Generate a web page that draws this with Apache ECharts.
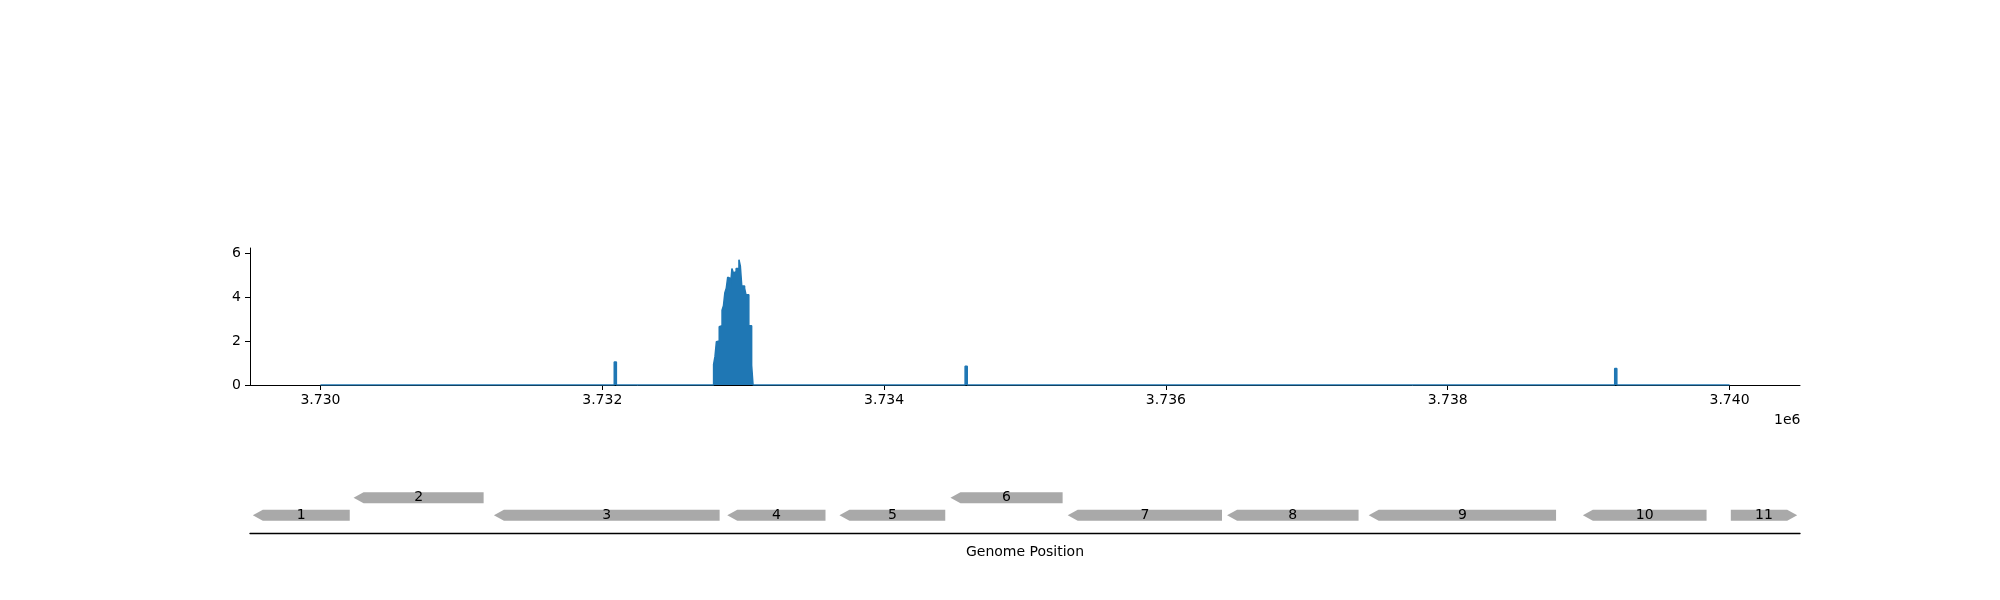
<!DOCTYPE html>
<html lang="en">
<head>
	<meta charset="UTF-8">
	<title>coverage</title>
	<style>
		html,body{margin:0;padding:0;background:#fff;}
		#main{width:2000px;height:600px;}
	</style>
</head>
<body>
	<div id="main"></div>
	<script src="https://cdn.jsdelivr.net/npm/echarts@6/dist/echarts.min.js"></script>
	<script>
		// coverage, step positions (bp) and depth
		var covPos = [3730000, 3732085, 3732100,
			3732790,3732800,3732810,3732820,3732830,3732840,3732850,3732860,3732870,3732880,
			3732890,3732900,3732910,3732920,3732930,3732940,3732950,3732960,3732970,3732980,
			3732990,3733000,3733010,3733020,3733030,3733040,3733050,3733060,3733070,
			3734575, 3734590, 3739185, 3739200, 3740000];
		var covVal = [0, 1.05, 0,
			0.94,1.3,1.97,2.0,2.65,2.7,3.4,3.6,4.2,4.4,
			4.9,4.85,4.5,5.3,5.1,5.15,5.3,5.3,5.7,5.4,
			4.5,4.5,4.4,4.1,4.1,2.7,2.7,0.9,0,
			0.85, 0, 0.75, 0, 0];

		var geneName = ['1','2','3','4','5','6','7','8','9','10','11'];
		var geneStart = [3729520,3730235,3731231,3732887,3733683,3734471,3735303,3736434,3737439,3738959,3740009];
		var geneEnd   = [3730208,3731158,3732833,3733584,3734434,3735267,3736398,3737367,3738769,3739837,3740480];
		var geneRow   = [1,2,1,1,1,2,1,1,1,1,1];
		var geneStrand= [-1,-1,-1,-1,-1,-1,-1,-1,-1,-1,1];

		var xTicks = [3730000,3732000,3734000,3736000,3738000,3740000];
		var yTicks = [0,2,4,6];

		var covData = [];
		for (var i = 0; i < covPos.length; i++) covData.push([covPos[i], covVal[i]]);
		var geneData = [];
		for (var i = 0; i < geneName.length; i++) {
			geneData.push([geneStart[i], geneEnd[i], geneRow[i], geneStrand[i], geneName[i]]);
		}

		var xmin = 3729500, xmax = 3740500;
		var font = 'DejaVu Sans';

		var myChart = echarts.init(document.getElementById('main'));
		var option = {
			animation: false,
			textStyle: {fontFamily: font},
			grid: [
				{left: 250, width: 1550, top: 248, height: 137},
				{left: 250, width: 1550, top: 480, height: 53}
			],
			xAxis: [{
				type: 'value', gridIndex: 0, min: xmin, max: xmax,
				axisLine: {show: true, onZero: false, lineStyle: {color: '#000'}},
				axisTick: {show: true, customValues: xTicks, length: 5, lineStyle: {color: '#000'}},
				axisLabel: {customValues: xTicks, color: '#000', fontSize: 14, margin: 8,
					formatter: function (v) { return (v / 1e6).toFixed(3); }},
				splitLine: {show: false},
				name: '1e6', nameLocation: 'end', nameGap: 0,
				nameTextStyle: {color: '#000', fontSize: 14, verticalAlign: 'top', padding: [28, 0, 0, -26]}
			}, {
				type: 'value', gridIndex: 1, min: xmin, max: xmax,
				axisLine: {show: true, onZero: false, lineStyle: {color: '#000', width: 1.3}},
				axisTick: {show: false}, axisLabel: {show: false}, splitLine: {show: false},
				name: 'Genome Position', nameLocation: 'middle', nameGap: 12,
				nameTextStyle: {color: '#000', fontSize: 14}
			}],
			yAxis: [{
				type: 'value', gridIndex: 0, min: 0, max: 6.23,
				axisLine: {show: true, lineStyle: {color: '#000'}},
				axisTick: {show: true, customValues: yTicks, length: 5, lineStyle: {color: '#000'}},
				axisLabel: {customValues: yTicks, color: '#000', fontSize: 14, margin: 9},
				splitLine: {show: false}
			}, {
				type: 'value', gridIndex: 1, min: 0, max: 3, show: false
			}],
			series: [{
				type: 'line', xAxisIndex: 0, yAxisIndex: 0,
				data: covData, step: 'end', symbol: 'none',
				lineStyle: {color: '#1f77b4', width: 1.5},
				areaStyle: {color: '#1f77b4', opacity: 1}
			}, {
				type: 'custom', xAxisIndex: 1, yAxisIndex: 1,
				data: geneData,
				renderItem: function (params, api) {
					var s = api.coord([api.value(0), api.value(2)]);
					var e = api.coord([api.value(1), api.value(2)]);
					var h = 5.5, head = 10, y = s[1];
					var pts;
					if (api.value(3) < 0) {
						pts = [[s[0], y], [s[0] + head, y - h], [e[0], y - h], [e[0], y + h], [s[0] + head, y + h]];
					} else {
						pts = [[s[0], y - h], [e[0] - head, y - h], [e[0], y], [e[0] - head, y + h], [s[0], y + h]];
					}
					return {
						type: 'group',
						children: [{
							type: 'polygon', shape: {points: pts},
							style: {fill: '#a9a9a9'}
						}, {
							type: 'text',
							style: {
								text: api.value(4), x: (s[0] + e[0]) / 2, y: y,
								align: 'center', verticalAlign: 'middle',
								fill: '#000', fontSize: 14, fontFamily: font
							}
						}]
					};
				}
			}]
		};
		myChart.setOption(option);
	</script>
</body>
</html>
